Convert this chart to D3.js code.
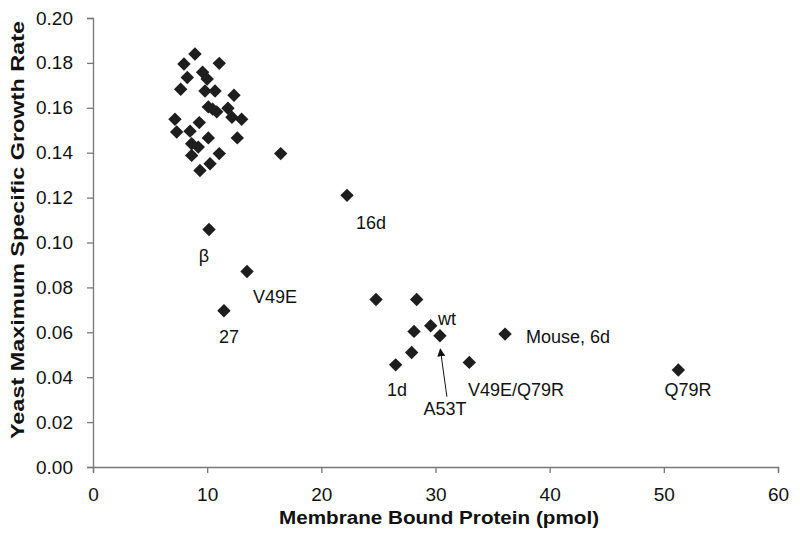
<!DOCTYPE html>
<html>
<head>
<meta charset="utf-8">
<script src="https://cdn.jsdelivr.net/npm/d3@7"></script>
<style>
  body { margin: 0; background: #fff; }
</style>
</head>
<body>
<div id="chart"></div>
<script>
// membrane bound protein (pmol) vs yeast growth rate
const proteinX = [
  8.93, 7.97, 11.06, 8.26, 9.6, 10.0, 7.68, 9.81, 10.69, 12.35,
  10.48, 10.1, 10.84, 11.82, 12.17, 13.02, 7.18, 7.33, 8.5, 9.31,
  10.1, 12.64, 8.64, 9.22, 8.64, 11.06, 9.37, 10.25, 16.44,
  22.25, 10.16, 13.49, 11.47, 24.79, 28.35, 29.58, 28.12, 30.39,
  36.09, 27.91, 26.51, 32.96, 51.27
];
const growthY = [
  0.184, 0.1795, 0.1798, 0.1735, 0.1758, 0.1728, 0.1683, 0.1675, 0.1675, 0.1656,
  0.1594, 0.1604, 0.1582, 0.1598, 0.1558, 0.1549, 0.1549, 0.1492, 0.1496, 0.1534,
  0.1466, 0.1466, 0.144, 0.1425, 0.1388, 0.1396, 0.1321, 0.1351, 0.1396,
  0.121, 0.1058, 0.0871, 0.0696, 0.0746, 0.0746, 0.0629, 0.0604, 0.0585,
  0.0592, 0.051, 0.0455, 0.0466, 0.0432
];

// annotation labels (anchored in data units)
const labelText = ["16d", "\u03B2", "V49E", "27", "wt", "Mouse, 6d", "1d", "V49E/Q79R", "A53T", "Q79R"];
const labelX    = [24.35, 9.72, 15.94, 11.91, 31.0, 41.6, 26.63, 37.05, 30.83, 52.12];
const labelY    = [0.1089, 0.0942, 0.0759, 0.058, 0.0661, 0.058, 0.0344, 0.0344, 0.0259, 0.0344];

// arrow from A53T label to its point
const arrowFrom = [31.0, 0.0313];
const arrowTo = [30.42, 0.0525];

const xTicks = [0, 10, 20, 30, 40, 50, 60];
const yTicks = [0, 0.02, 0.04, 0.06, 0.08, 0.10, 0.12, 0.14, 0.16, 0.18, 0.20];

const width = 800, height = 539;
const margin = { left: 93, right: 22, top: 18, bottom: 72 };

const svg = d3.select("#chart")
  .append("svg")
  .attr("width", width)
  .attr("height", height)
  .style("font-family", "Liberation Sans, Arial, sans-serif");

const x = d3.scaleLinear().domain([0, 60]).range([margin.left, width - margin.right]);
const y = d3.scaleLinear().domain([0, 0.2]).range([height - margin.bottom, margin.top]);

const axisColor = "#777";

// x axis
const gx = svg.append("g")
  .attr("transform", `translate(0,${y(0)})`)
  .call(d3.axisBottom(x).tickValues(xTicks).tickSize(6).tickPadding(15).tickFormat(d3.format("d")));
gx.select(".domain").attr("stroke", axisColor).attr("stroke-width", 1.3);
gx.selectAll(".tick line").attr("stroke", axisColor).attr("stroke-width", 1.3);
gx.selectAll(".tick text").attr("font-size", 19).attr("fill", "#111")
  .style("font-family", "Liberation Sans, Arial, sans-serif");

// y axis
const gy = svg.append("g")
  .attr("transform", `translate(${x(0)},0)`)
  .call(d3.axisLeft(y).tickValues(yTicks).tickSize(6).tickPadding(14).tickFormat(d3.format(".2f")));
gy.select(".domain").attr("stroke", axisColor).attr("stroke-width", 1.3);
gy.selectAll(".tick line").attr("stroke", axisColor).attr("stroke-width", 1.3);
gy.selectAll(".tick text").attr("font-size", 19).attr("fill", "#111")
  .style("font-family", "Liberation Sans, Arial, sans-serif");

// axis titles
svg.append("text")
  .attr("x", 439)
  .attr("y", 524)
  .attr("text-anchor", "middle")
  .attr("font-size", 18)
  .attr("font-weight", "bold")
  .attr("fill", "#111")
  .attr("textLength", 320)
  .attr("lengthAdjust", "spacingAndGlyphs")
  .text("Membrane Bound Protein (pmol)");

svg.append("text")
  .attr("transform", "translate(24,230) rotate(-90)")
  .attr("text-anchor", "middle")
  .attr("font-size", 18)
  .attr("font-weight", "bold")
  .attr("fill", "#111")
  .attr("textLength", 418)
  .attr("lengthAdjust", "spacingAndGlyphs")
  .text("Yeast Maximum Specific Growth Rate");

// points
const points = d3.zip(proteinX, growthY);
const diamond = d3.symbol().type(d3.symbolSquare).size(90);
svg.append("g")
  .selectAll("path")
  .data(points)
  .join("path")
  .attr("d", diamond)
  .attr("transform", d => `translate(${x(d[0])},${y(d[1])}) rotate(45)`)
  .attr("fill", "#1e1e1e");

// labels
svg.append("g")
  .selectAll("text")
  .data(labelText)
  .join("text")
  .attr("x", (d, i) => x(labelX[i]))
  .attr("y", (d, i) => y(labelY[i]))
  .attr("dy", "0.35em")
  .attr("text-anchor", "middle")
  .attr("font-size", 18)
  .attr("fill", "#111")
  .text(d => d);

// arrow
svg.append("defs").append("marker")
  .attr("id", "arrowhead")
  .attr("viewBox", "0 -5 10 10")
  .attr("refX", 9)
  .attr("refY", 0)
  .attr("markerWidth", 8)
  .attr("markerHeight", 10)
  .attr("markerUnits", "userSpaceOnUse")
  .attr("orient", "auto")
  .append("path")
  .attr("d", "M0,-5L10,0L0,5Z")
  .attr("fill", "#111");

svg.append("line")
  .attr("x1", x(arrowFrom[0]))
  .attr("y1", y(arrowFrom[1]))
  .attr("x2", x(arrowTo[0]))
  .attr("y2", y(arrowTo[1]))
  .attr("stroke", "#111")
  .attr("stroke-width", 1)
  .attr("marker-end", "url(#arrowhead)");
</script>
</body>
</html>
